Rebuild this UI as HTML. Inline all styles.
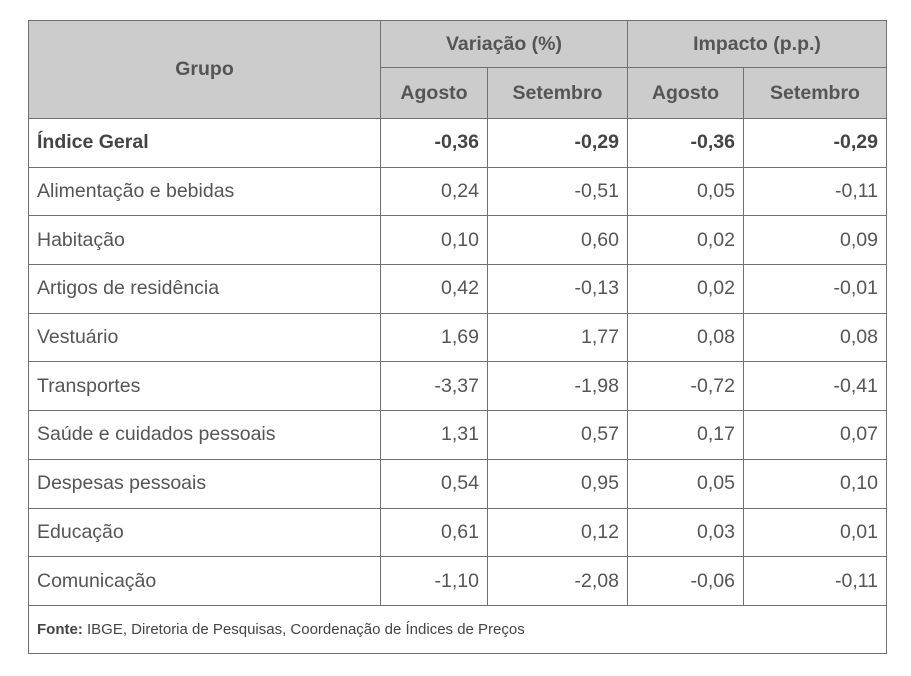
<!DOCTYPE html>
<html><head><meta charset="utf-8"><style>
html,body{margin:0;padding:0;background:#fff;width:911px;height:676px;overflow:hidden}
table{position:absolute;left:28px;top:20px;border-collapse:collapse;font-family:"Liberation Sans",sans-serif;color:#555;font-size:19.5px}
td,th{border:1.5px solid #707070;padding:0 8px;}
th{background:#cccccc;font-weight:bold;color:#555;text-align:center}
tr.h1 th{height:46px}
tr.h2 th{height:50px}
tbody td{height:47.7px}
td.n{text-align:right}
tr.b td{font-weight:bold;color:#444}
td.f{font-size:15px;height:47px;color:#444}
</style></head><body>
<table>
<colgroup><col style="width:352px"><col style="width:107px"><col style="width:140px"><col style="width:116px"><col style="width:143px"></colgroup>
<thead>
<tr class="h1"><th rowspan="2">Grupo</th><th colspan="2">Variação (%)</th><th colspan="2">Impacto (p.p.)</th></tr>
<tr class="h2"><th>Agosto</th><th>Setembro</th><th>Agosto</th><th>Setembro</th></tr>
</thead>
<tbody>
<tr class="b"><td>Índice Geral</td><td class="n">-0,36</td><td class="n">-0,29</td><td class="n">-0,36</td><td class="n">-0,29</td></tr>
<tr><td>Alimentação e bebidas</td><td class="n">0,24</td><td class="n">-0,51</td><td class="n">0,05</td><td class="n">-0,11</td></tr>
<tr><td>Habitação</td><td class="n">0,10</td><td class="n">0,60</td><td class="n">0,02</td><td class="n">0,09</td></tr>
<tr><td>Artigos de residência</td><td class="n">0,42</td><td class="n">-0,13</td><td class="n">0,02</td><td class="n">-0,01</td></tr>
<tr><td>Vestuário</td><td class="n">1,69</td><td class="n">1,77</td><td class="n">0,08</td><td class="n">0,08</td></tr>
<tr><td>Transportes</td><td class="n">-3,37</td><td class="n">-1,98</td><td class="n">-0,72</td><td class="n">-0,41</td></tr>
<tr><td>Saúde e cuidados pessoais</td><td class="n">1,31</td><td class="n">0,57</td><td class="n">0,17</td><td class="n">0,07</td></tr>
<tr><td>Despesas pessoais</td><td class="n">0,54</td><td class="n">0,95</td><td class="n">0,05</td><td class="n">0,10</td></tr>
<tr><td>Educação</td><td class="n">0,61</td><td class="n">0,12</td><td class="n">0,03</td><td class="n">0,01</td></tr>
<tr><td>Comunicação</td><td class="n">-1,10</td><td class="n">-2,08</td><td class="n">-0,06</td><td class="n">-0,11</td></tr>
<tr><td colspan="5" class="f"><b>Fonte:</b> IBGE, Diretoria de Pesquisas, Coordenação de Índices de Preços</td></tr>
</tbody>
</table>
</body></html>
